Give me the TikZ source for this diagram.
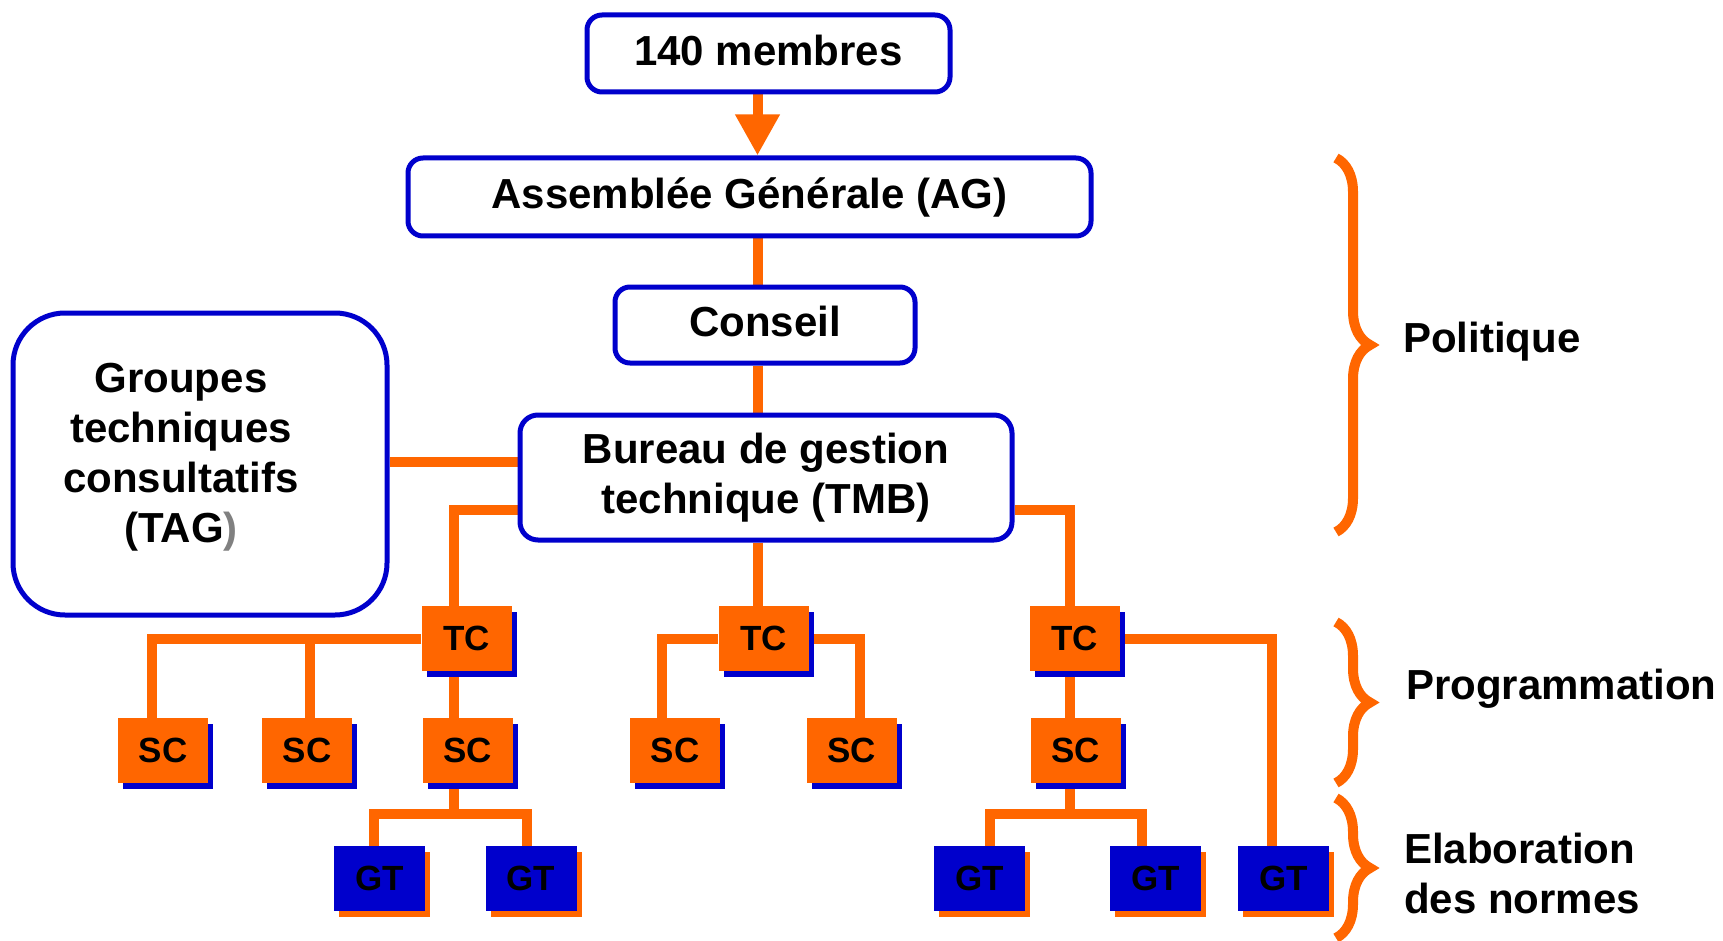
\documentclass[tikz,border=0pt]{standalone}
\usepackage{fontspec}
\setmainfont{Liberation Sans}
\usepackage{color}
\usepackage{tikz}
\usetikzlibrary{arrows.meta}
\usetikzlibrary{shadows}
\usetikzlibrary{backgrounds}
\usetikzlibrary{decorations.pathreplacing}
\definecolor{isoorange}{RGB}{255,102,0}
\definecolor{isoblue}{RGB}{0,0,204}
\newcommand{\bigtxt}{\fontsize{42}{50}\selectfont\bfseries}
\newcommand{\boxtxt}{\fontsize{35}{40}\selectfont\bfseries}

\begin{document}
\begin{tikzpicture}[x=1pt,y=-1pt,
    bigbox/.style={draw=isoblue,line width=5pt,rounded corners=15pt,fill=white,font=\bigtxt,align=center,inner sep=0pt},
    tcbox/.style={fill=isoorange,minimum width=90pt,minimum height=65pt,inner sep=0pt,font=\boxtxt,
        drop shadow={shadow xshift=5pt,shadow yshift=-6pt,fill=isoblue,opacity=1}},
    gtbox/.style={fill=isoblue,minimum width=91pt,minimum height=65pt,inner sep=0pt,font=\boxtxt,
        drop shadow={shadow xshift=5pt,shadow yshift=-6pt,fill=isoorange,opacity=1}},
    link/.style={draw=isoorange,line width=10pt},
    curly/.style={draw=isoorange,line width=10pt,decorate,decoration={brace,amplitude=34pt}},
    lbl/.style={font=\bigtxt,anchor=west,inner sep=0pt,align=left}]
        \useasboundingbox (0,0) rectangle (1723,941);
        \coordinate (spine) at (757.5,0);
        % Instances
        \node[bigbox,minimum width=363pt,minimum height=77pt,text depth=6pt] (mem) at (768.5,53.5) {140 membres};
        \node[bigbox,minimum width=683pt,minimum height=78pt] (ag) at (749.5,197) {Assemblée Générale (AG)};
        \node[bigbox,minimum width=300pt,minimum height=76pt,text depth=7pt] (cons) at (765,325) {Conseil};
        \node[bigbox,minimum width=492pt,minimum height=125pt,rounded corners=18pt] (tmb) at (766,477.5) {Bureau de gestion\\technique (TMB)};
        \node[bigbox,minimum width=374pt,minimum height=302pt,rounded corners=52pt] (tag) at (200,464) {};
        \node[font=\bigtxt,align=center,inner sep=0pt] (tagtxt) at (181,457) {Groupes\\techniques\\consultatifs\\(TAG\textcolor{gray}{)}};
        % Committees
        \node[tcbox] (tc1) at (466.5,638.5) {TC};
        \node[tcbox] (tc2) at (763.5,638.5) {TC};
        \node[tcbox] (tc3) at (1074.5,638.5) {TC};
        \node[tcbox] (sc1) at (163,750.5) {SC};
        \node[tcbox] (sc2) at (307,750.5) {SC};
        \node[tcbox] (sc3) at (467.5,750.5) {SC};
        \node[tcbox] (sc4) at (675,750.5) {SC};
        \node[tcbox] (sc5) at (851.5,750.5) {SC};
        \node[tcbox] (sc6) at (1075.5,750.5) {SC};
        \node[gtbox] (gt1) at (379.5,878.5) {GT};
        \node[gtbox] (gt2) at (531,878.5) {GT};
        \node[gtbox] (gt3) at (979.5,878.5) {GT};
        \node[gtbox] (gt4) at (1155.5,878.5) {GT};
        \node[gtbox] (gt5) at (1283.5,878.5) {GT};
        \coordinate (g3) at (454,814);
        \coordinate (g6) at (1070,814);
        %
        % Edges:
        \begin{scope}[on background layer]
      \draw[link,-{Triangle[length=41pt,width=42pt]}] (mem.south -| spine) -- (ag.north -| spine);
      \draw[link] (ag.south -| spine) -- (cons.north -| spine);
      \draw[link] (cons.south -| spine) -- (tmb.north -| spine);
      \draw[link] ([yshift=2.5pt]tag.east) -- ([yshift=2.5pt]tag.east -| tmb.west);
      \draw[link] ([yshift=-32pt]tmb.west) -| (g3 |- tc1.north);
      \draw[link] (tmb.south -| spine) -- (tc2.north -| spine);
      \draw[link] ([yshift=-32pt]tmb.east) -| (g6 |- tc3.north);
      \draw[link] (tc1.west) -| ([xshift=-11pt]sc1.north);
      \draw[link] ([xshift=3pt]sc2.north) |- (tc1.west);
      \draw[link] (g3 |- tc1.south) -- (g3 |- sc3.north);
      \draw[link] (g3 |- sc3.south) -- (g3);
      \draw[link] ([xshift=-5.5pt]gt1.north) |- (g3) -| ([xshift=-4pt]gt2.north);
      \draw[link] ([xshift=-13pt]sc4.north) |- (tc2.west);
      \draw[link] ([xshift=8.5pt]sc5.north) |- (tc2.east);
      \draw[link] (g6 |- tc3.south) -- (g6 |- sc6.north);
      \draw[link] (tc3.east) -| ([xshift=-12pt]gt5.north);
      \draw[link] (g6 |- sc6.south) -- (g6);
      \draw[link] ([xshift=10.5pt]gt3.north) |- (g6) -| ([xshift=-13.5pt]gt4.north);
        \end{scope}
        % Levels
        \draw[curly] (1336,158) -- (1336,532);
        \draw[curly] (1336,622) -- (1336,783);
        \draw[curly] (1336,798) -- (1336,938);
        \node[lbl] (pol) at (1403,342) {Politique};
        \node[lbl] (prog) at (1406,689) {Programmation};
        \node[lbl] (elab) at (1404,873) {Elaboration\\des normes};
\end{tikzpicture}
\end{document}
